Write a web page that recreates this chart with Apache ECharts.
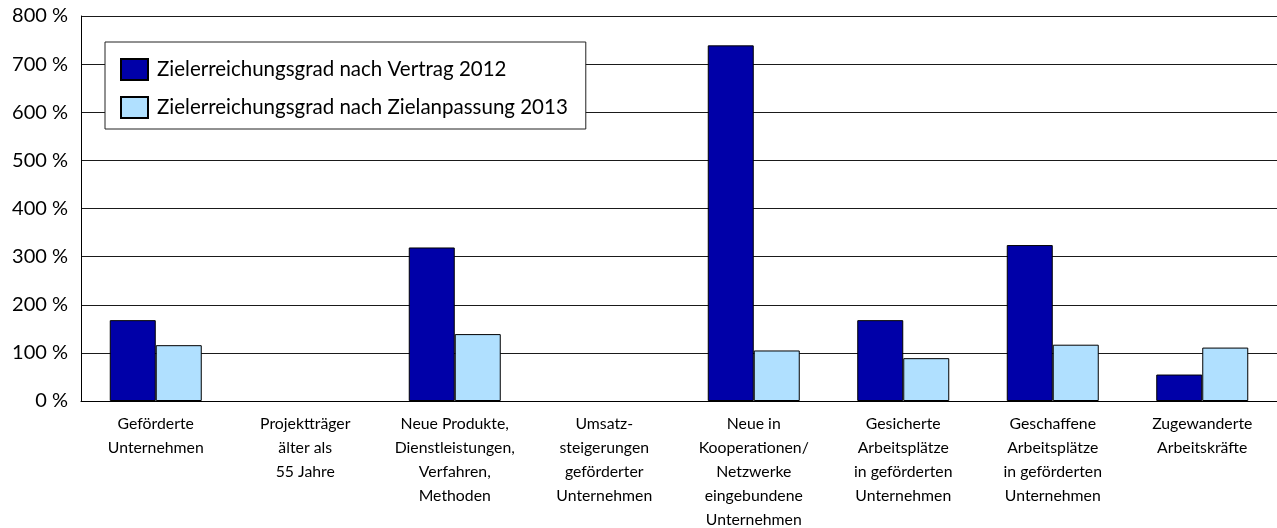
<!DOCTYPE html>
<html>
<head>
<meta charset="utf-8">
<script src="https://cdn.jsdelivr.net/npm/echarts@6/dist/echarts.min.js"></script>
<style>
  html, body { margin: 0; padding: 0; background: #fff; }
  #chart { width: 1277px; height: 528px; }
</style>
</head>
<body>
<div id="chart"></div>
<script>
  // Kategorien (x-Achse)
  const categories = [
    'Geförderte\nUnternehmen',
    'Projektträger\nälter als\n55 Jahre',
    'Neue Produkte,\nDienstleistungen,\nVerfahren,\nMethoden',
    'Umsatz-\nsteigerungen\ngeförderter\nUnternehmen',
    'Neue in\nKooperationen/\nNetzwerke\neingebundene\nUnternehmen',
    'Gesicherte\nArbeitsplätze\nin geförderten\nUnternehmen',
    'Geschaffene\nArbeitsplätze\nin geförderten\nUnternehmen',
    'Zugewanderte\nArbeitskräfte'
  ]
  const seriesNames = ['Zielerreichungsgrad nach Vertrag 2012', 'Zielerreichungsgrad nach Zielanpassung 2013']
  const vertrag2012 = [168, null, 319, null, 739, 168, 324, 55]
  const anpassung2013 = [116, null, 139, null, 105, 89, 117, 111]
  const yTicks = [0, 100, 200, 300, 400, 500, 600, 700, 800]

  const fontFamily = 'Lato, "Open Sans", sans-serif'
  const colors = ['#0000A8', '#B0E0FF']

  let myChart = echarts.init(document.getElementById('chart'))
  let option = {
    animation: false,
    textStyle: { fontFamily: fontFamily },
    grid: { left: 81, right: 0, top: 16, bottom: 127, containLabel: false, outerBoundsMode: 'none' },
    legend: {
      left: 105,
      top: 42,
      orient: 'vertical',
      icon: 'rect',
      padding: [16, 18, 10, 15],
      itemGap: 15,
      itemWidth: 27,
      itemHeight: 21,
      backgroundColor: '#fff',
      borderColor: '#222',
      borderWidth: 1,
      textStyle: { fontSize: 20.5, lineHeight: 21, color: '#000', fontFamily: fontFamily, padding: [0, 0, 0, 4] },
      data: seriesNames
    },
    xAxis: {
      type: 'category',
      data: categories,
      axisTick: { show: false },
      axisLine: { lineStyle: { color: '#000', width: 1 } },
      axisLabel: {
        interval: 0,
        margin: 11,
        fontSize: 15.8,
        lineHeight: 24,
        color: '#000',
        fontFamily: fontFamily
      }
    },
    yAxis: {
      type: 'value',
      min: yTicks[0],
      max: yTicks[yTicks.length - 1],
      interval: 100,
      axisLine: { show: true, lineStyle: { color: '#000', width: 1 } },
      axisTick: { show: false },
      axisLabel: {
        margin: 13,
        fontSize: 20,
        color: '#000',
        fontFamily: fontFamily,
        formatter: v => v + ' %'
      },
      splitLine: { lineStyle: { color: '#1a1a1a', width: 1 } }
    },
    series: [
      {
        name: seriesNames[0],
        type: 'bar',
        data: vertrag2012,
        barWidth: 46,
        barGap: '0%',
        itemStyle: { color: colors[0], borderColor: '#000', borderWidth: 1 }
      },
      {
        name: seriesNames[1],
        type: 'bar',
        data: anpassung2013,
        barWidth: 46,
        barGap: '0%',
        itemStyle: { color: colors[1], borderColor: '#000', borderWidth: 1 }
      }
    ]
  }
  myChart.setOption(option, true)
</script>
</body>
</html>
